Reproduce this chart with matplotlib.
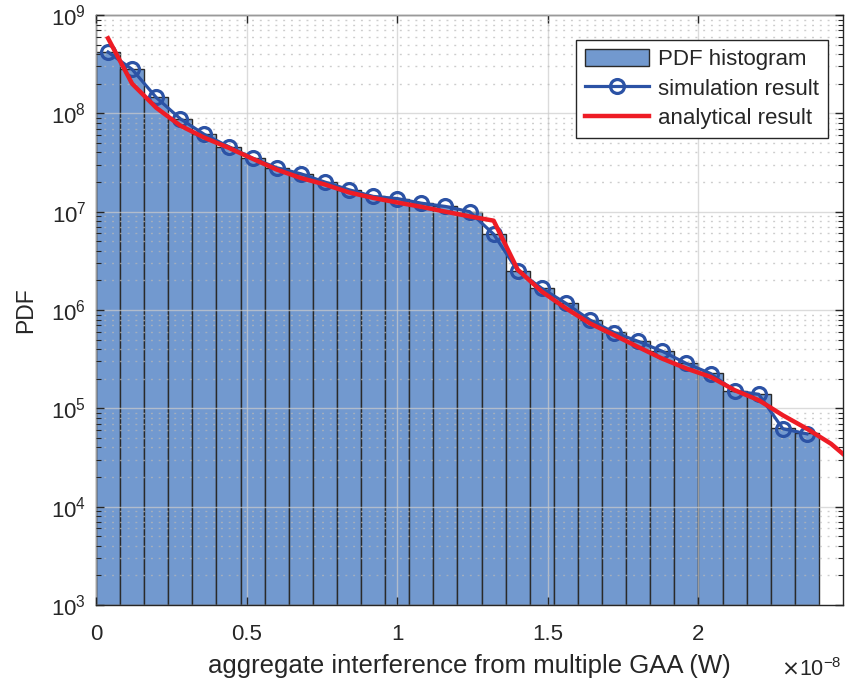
import numpy as np
import matplotlib
matplotlib.use("Agg")
import matplotlib.pyplot as plt
from matplotlib.ticker import LogLocator, FuncFormatter, NullFormatter

# Histogram bins (x in units of 1e-8 W)
bin_width = 0.08
bin_left = [0.00, 0.08, 0.16, 0.24, 0.32, 0.40, 0.48, 0.56, 0.64, 0.72,
            0.80, 0.88, 0.96, 1.04, 1.12, 1.20, 1.28, 1.36, 1.44, 1.52,
            1.60, 1.68, 1.76, 1.84, 1.92, 2.00, 2.08, 2.16, 2.24, 2.32]

# simulated PDF (histogram heights, also the circle markers)
sim_pdf = [4.2e8, 2.8e8, 1.45e8, 8.8e7, 6.1e7, 4.6e7, 3.5e7, 2.8e7, 2.43e7, 2.0e7,
           1.67e7, 1.43e7, 1.36e7, 1.22e7, 1.13e7, 1.0e7, 5.9e6, 2.5e6, 1.66e6, 1.17e6,
           7.9e5, 5.9e5, 4.8e5, 3.8e5, 2.86e5, 2.26e5, 1.5e5, 1.39e5, 6.2e4, 5.5e4]

# analytical PDF at bin centres
ana_x = [0.04, 0.12, 0.20, 0.28, 0.36, 0.44, 0.52, 0.60, 0.68, 0.76, 0.84,
         0.92, 1.00, 1.08, 1.16, 1.24, 1.32, 1.40, 1.48, 1.56, 1.64, 1.72,
         1.80, 1.88, 1.96, 2.04, 2.12, 2.20, 2.28, 2.36, 2.44, 2.52]
ana_pdf = [5.8e8, 2.0e8, 1.14e8, 7.5e7, 5.65e7, 4.47e7, 3.45e7, 2.68e7, 2.2e7, 1.89e7, 1.57e7,
           1.38e7, 1.24e7, 1.12e7, 1.0e7, 8.96e6, 8.1e6, 2.57e6, 1.54e6, 1.04e6, 7.3e5, 5.56e5,
           4.2e5, 3.2e5, 2.54e5, 2.09e5, 1.53e5, 1.21e5, 8.5e4, 6.2e4, 4.36e4, 2.7e4]

plt.rcParams['font.family'] = ['Liberation Sans', 'DejaVu Sans']
txt_col = '#262626'

fig = plt.figure(figsize=(8.48, 6.86), dpi=100)
ax = fig.add_axes([0.1132, 0.1181, 0.881, 0.860])

bin_centre = np.array(bin_left) + bin_width / 2

h_bar = ax.bar(bin_left, sim_pdf, width=bin_width, align='edge', bottom=1e3,
               color='#7299cf', edgecolor='#2a2a2a', linewidth=1.0, zorder=1,
               label='PDF histogram')
h_sim, = ax.plot(bin_centre, sim_pdf, color='#2b52a5', lw=2.3, marker='o', ms=10,
                 mfc='none', mew=2.3, zorder=4, label='simulation result')
h_ana, = ax.plot(ana_x, ana_pdf, color='#ee1c25', lw=3.2, zorder=5,
                 label='analytical result')

ax.set_yscale('log')
ax.set_ylim(1e3, 1e9)
ax.set_xlim(0, 2.48)

ax.set_xticks([0, 0.5, 1, 1.5, 2])
ax.xaxis.set_major_formatter(FuncFormatter(lambda v, p: '%g' % v))
ax.xaxis.get_offset_text().set_visible(False)
ax.yaxis.set_major_locator(LogLocator(base=10, numticks=10))
ax.yaxis.set_minor_locator(LogLocator(base=10, subs=np.arange(2, 10), numticks=100))
ax.yaxis.set_minor_formatter(NullFormatter())

ax.tick_params(which='both', direction='in', top=True, right=True,
               labelsize=16, colors=txt_col)
ax.tick_params(axis='x', pad=14)
ax.tick_params(axis='y', pad=7)
ax.tick_params(which='major', length=6, width=1)
ax.tick_params(which='minor', length=3.5, width=0.8)
for s in ax.spines.values():
    s.set_color(txt_col)
    s.set_linewidth(1.0)

# grid drawn over the bars, like MATLAB
ax.set_axisbelow(False)
ax.xaxis.grid(True, which='major', color='#cccccc', lw=1.0, alpha=0.7)
ax.yaxis.grid(True, which='major', color='#cccccc', lw=1.0, alpha=0.7)
ax.yaxis.grid(True, which='minor', color='#b8b8b8', lw=1.0, alpha=0.7,
              linestyle=(0, (1.4, 4.2)))

ax.set_xlabel('aggregate interference from multiple GAA (W)', fontsize=18.5,
              color=txt_col, labelpad=6)
ax.set_ylabel('PDF', fontsize=16.5, color=txt_col, labelpad=10)
fig.text(0.957, 0.024, r'$\times\mathdefault{10^{-8}}$', fontsize=15.5,
         color=txt_col, ha='center', va='center')

leg = ax.legend([h_bar, h_sim, h_ana],
                ['PDF histogram', 'simulation result', 'analytical result'],
                loc='upper right', bbox_to_anchor=(0.980, 0.958), borderaxespad=0,
                fontsize=16, fancybox=False, framealpha=1, edgecolor=txt_col,
                handlelength=2.9, handleheight=0.85, handletextpad=0.4,
                borderpad=0.4, labelspacing=0.35)
leg.get_frame().set_linewidth(1.0)
for t in leg.get_texts():
    t.set_color(txt_col)

fig.savefig('out.png', dpi=100)
